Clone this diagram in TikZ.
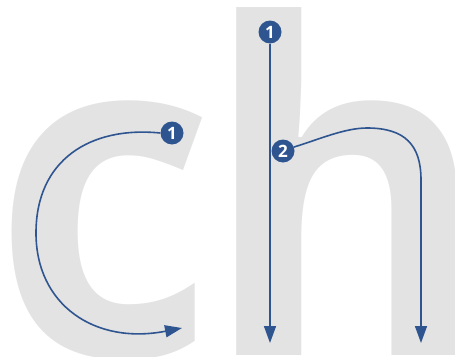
\documentclass[tikz,border=0pt]{standalone}
\usepackage{fontspec}
\newfontfamily\letterfont{Open Sans}[BoldFont={* Bold}]
\newfontfamily\numfont{Open Sans}
\usetikzlibrary{arrows.meta}
\definecolor{strokeblue}{RGB}{47,85,145}
\definecolor{glyphgrey}{RGB}{227,227,227}
\pgfdeclarelayer{glyphs}
\pgfdeclarelayer{lines}
\pgfsetlayers{glyphs,lines,main}
\tikzset{
  glyph/.style={inner sep=0pt, outer sep=0pt, text=glyphgrey, anchor=base west,
    font=\letterfont\bfseries\fontsize{458}{458}\selectfont},
  num/.style={circle, fill=strokeblue, text=white, inner sep=0pt,
    minimum size=23pt, font=\numfont\bfseries\fontsize{17}{17}\selectfont},
  strokeline/.style={draw=strokeblue, line width=1.6pt,
    -{Triangle[length=17pt,width=12pt]}}
}
\begin{document}
\begin{tikzpicture}[x=1pt,y=-1pt]
\useasboundingbox (0,0) rectangle (455,356);
\clip (0,0) rectangle (455,356);
\begin{pgfonlayer}{glyphs}
\node[glyph] (c) at (-8,355) {\scalebox{0.95}[1]{c}};
\node[glyph] (h) at (202,355) {\scalebox{0.955}[1]{h}};
\end{pgfonlayer}
\coordinate (cend) at (182,328);
\coordinate (h1end) at (270,343);
\coordinate (h2end) at (421,343);
\node[num] (c1) at (172,133) {1};
\node[num] (h1) at (270,32) {1};
\node[num] (h2) at (283,151) {2};
\begin{pgfonlayer}{lines}
\draw[strokeline] (c1.west) .. controls (90,126) and (36,160) .. (36,233)
  .. controls (36,305) and (95,345) .. (cend);
\draw[strokeline] (h1.south) -- (h1end);
\draw[strokeline] (h2.20) .. controls (320,139) and (345,128) .. (367,128)
  .. controls (405,128) and (421,145) .. (421,180) -- (h2end);
\end{pgfonlayer}
\end{tikzpicture}
\end{document}
